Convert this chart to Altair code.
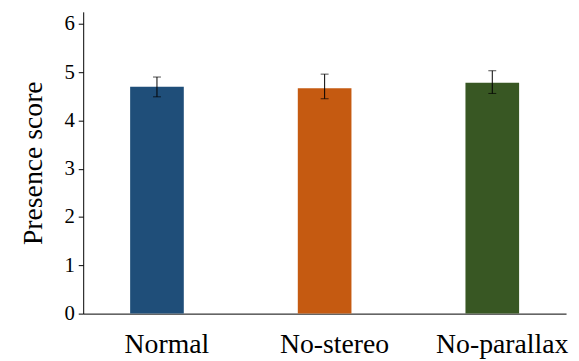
import altair as alt
import pandas as pd

conditions = ["Normal", "No-stereo", "No-parallax"]
means = [4.70, 4.67, 4.78]
err_low = [4.49, 4.45, 4.56]
err_high = [4.90, 4.96, 5.03]
colors = ["#1f4e79", "#c55a11", "#385723"]

df = pd.DataFrame({"condition": conditions, "mean": means, "lo": err_low, "hi": err_high})

SERIF = "Liberation Serif"

x = alt.X("condition:N", sort=conditions, title=None,
          scale=alt.Scale(paddingInner=0.68, paddingOuter=0.28),
          axis=alt.Axis(labelAngle=0, ticks=False, labelFontSize=28, labelPadding=17,
                        labelOffset=10, labelFont=SERIF))
yaxis = alt.Axis(values=[0, 1, 2, 3, 4, 5, 6], grid=False, tickSize=5, labelFontSize=21,
                 labelPadding=4, titleFontSize=28, titleFontWeight="normal", titlePadding=17,
                 labelFont=SERIF, titleFont=SERIF)
y = alt.Y("mean:Q", title="Presence score",
          scale=alt.Scale(domain=[0, 6.25], nice=False), axis=yaxis)

bars = alt.Chart(df).mark_bar().encode(
    x=x, y=y,
    color=alt.Color("condition:N", sort=conditions,
                    scale=alt.Scale(domain=conditions, range=colors), legend=None))

errs = alt.Chart(df).mark_errorbar(ticks=alt.MarkConfig(size=8, color="#000"), color="#000", thickness=1).encode(
    x=alt.X("condition:N", sort=conditions),
    y=alt.Y("lo:Q", title="Presence score", axis=yaxis), y2="hi:Q")

chart = (bars + errs).properties(
    width=488, height=305,
    autosize=alt.AutoSizeParams(type="none"),
    padding={"left": 76, "top": 2, "right": 5, "bottom": 46}
).configure_view(stroke=None).configure_axis(
    labelFont=SERIF, titleFont=SERIF,
    labelColor="#000", titleColor="#000", tickColor="#000", domainColor="#000"
)

chart.save("out.html", embed_options={"renderer": "svg", "actions": False})
